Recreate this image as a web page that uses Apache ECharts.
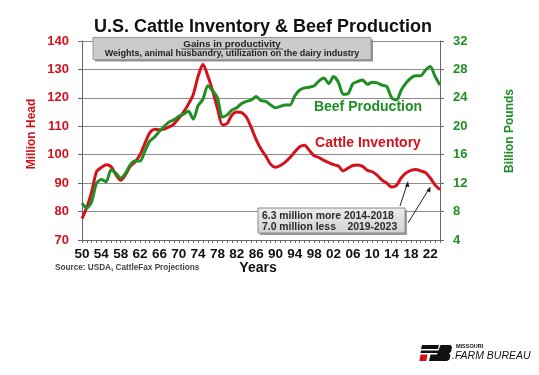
<!DOCTYPE html>
<html>
<head>
<meta charset="utf-8">
<script src="https://cdn.jsdelivr.net/npm/echarts@6/dist/echarts.min.js"></script>
<style>
html,body{margin:0;padding:0;background:#fff;}
#chart{width:539px;height:375px;}
</style>
</head>
<body>
<div id="chart"></div>
<script>
// Years 1950..2024
var startYear = 1950;
var endYear = 2024;

// Cattle inventory, million head (left axis)
var cattleInventory = [
  77.5, 81.5, 87.0, 94.0, 95.5, 96.5, 95.8, 93.0, 91.0, 93.0,
  96.0, 97.5, 100.0, 104.0, 107.7, 109.0, 108.8, 109.0, 109.8, 110.8,
  112.8, 115.0, 117.8, 121.2, 127.6, 131.8, 127.8, 122.5, 116.3, 110.5,
  111.0, 114.0, 115.0, 114.8, 113.2, 109.5, 105.3, 102.0, 99.5, 96.6,
  95.6, 96.2, 97.4, 99.0, 101.0, 102.8, 103.3, 101.5, 99.6, 99.0,
  98.0, 97.2, 96.5, 96.0, 94.3, 95.3, 96.2, 96.4, 95.9, 94.5,
  94.0, 92.8, 91.1, 90.0, 88.6, 89.2, 91.9, 93.6, 94.5, 94.8,
  94.3, 93.7, 91.8, 89.3, 87.7
];

// Beef production, billion pounds (right axis)
var beefProduction = [
  9.2, 8.5, 9.4, 12.0, 12.5, 12.2, 13.9, 13.4, 12.7, 13.4,
  14.6, 15.1, 15.1, 16.5, 17.9, 18.5, 19.3, 20.0, 20.6, 20.9,
  21.4, 21.7, 22.1, 21.0, 22.9, 23.8, 25.7, 25.0, 24.0, 21.3,
  21.6, 22.3, 22.6, 23.2, 23.5, 23.7, 24.2, 23.6, 23.5, 23.0,
  22.6, 22.8, 23.0, 23.0, 24.3, 25.1, 25.4, 25.5, 25.7, 26.4,
  26.8, 26.0, 27.0, 26.2, 24.5, 24.6, 26.0, 26.3, 26.5, 25.9,
  26.2, 26.1, 25.8, 25.6, 24.0, 23.7, 25.1, 26.1, 26.8, 27.1,
  27.1, 27.9, 28.4, 27.0, 25.8
];

// Tick labels
var leftTicks = [70, 80, 90, 100, 110, 120, 130, 140];
var rightTicks = [4, 8, 12, 16, 20, 24, 28, 32];

var years = [];
for (var y = startYear; y <= endYear; y++) years.push(y);
var cattleData = years.map(function (yr, i) { return [yr, cattleInventory[i]]; });
var beefData = years.map(function (yr, i) { return [yr, beefProduction[i]]; });

var RED = '#d3121c';
var GREEN = '#1f8f24';
var FONT = '"Liberation Sans", Arial, sans-serif';

var chart = echarts.init(document.getElementById('chart'), null, {renderer: 'canvas'});

var option = {
  animation: false,
  backgroundColor: '#ffffff',
  grid: {left: 82, right: 99, top: 41, bottom: 135, containLabel: false},
  xAxis: {
    type: 'value',
    min: startYear,
    max: endYear,
    interval: 1,
    axisLine: {show: true, lineStyle: {color: '#666', width: 1}},
    axisTick: {show: true, length: 3, lineStyle: {color: '#666'}},
    splitLine: {show: false},
    axisLabel: {
      margin: 7,
      color: '#111',
      fontFamily: FONT,
      fontWeight: 'bold',
      fontSize: 13.5,
      formatter: function (v) {
        return ((v - startYear) % 4 === 0 && v <= 2022) ? String(v).slice(2) : '';
      }
    }
  },
  yAxis: [
    {
      type: 'value',
      min: leftTicks[0],
      max: leftTicks[leftTicks.length - 1],
      interval: 10,
      position: 'left',
      axisLine: {show: true, lineStyle: {color: '#666', width: 1}},
      axisTick: {show: true, length: 4, lineStyle: {color: '#666'}},
      splitLine: {show: true, lineStyle: {color: '#8c8c8c', width: 1}},
      axisLabel: {margin: 13, color: RED, fontFamily: FONT, fontWeight: 'bold', fontSize: 13}
    },
    {
      type: 'value',
      min: rightTicks[0],
      max: rightTicks[rightTicks.length - 1],
      interval: 4,
      position: 'right',
      axisLine: {show: true, lineStyle: {color: '#666', width: 1}},
      axisTick: {show: true, length: 4, lineStyle: {color: '#666'}},
      splitLine: {show: false},
      axisLabel: {margin: 13, color: GREEN, fontFamily: FONT, fontWeight: 'bold', fontSize: 13}
    }
  ],
  series: [
    {
      name: 'Cattle Inventory',
      type: 'line',
      yAxisIndex: 0,
      data: cattleData,
      showSymbol: false,
      smooth: 0.25,
      lineStyle: {color: RED, width: 3},
      z: 3
    },
    {
      name: 'Beef Production',
      type: 'line',
      yAxisIndex: 1,
      data: beefData,
      showSymbol: false,
      smooth: 0.25,
      lineStyle: {color: GREEN, width: 3},
      z: 4
    }
  ],
  graphic: [
    // Title
    {type: 'text', x: 263, y: 27, z: 10,
      style: {text: 'U.S. Cattle Inventory & Beef Production', fill: '#111', font: 'bold 18px ' + FONT, align: 'center', verticalAlign: 'middle'}},
    // Productivity box shadow + box
    {type: 'rect', shape: {x: 95, y: 39.5, width: 278, height: 22}, style: {fill: '#8f8f8f'}, z: 10},
    {type: 'rect', shape: {x: 93, y: 37.5, width: 278, height: 22}, style: {fill: '#cbcbcb', stroke: '#9a9a9a', lineWidth: 1}, z: 11},
    {type: 'text', x: 232, y: 44, z: 12,
      style: {text: 'Gains in productivity', fill: '#222', font: 'bold 9.8px ' + FONT, align: 'center', verticalAlign: 'middle'}},
    {type: 'line', shape: {x1: 181, y1: 49, x2: 283, y2: 49}, style: {stroke: '#333', lineWidth: 0.8}, z: 12},
    {type: 'text', x: 232, y: 53.5, z: 12,
      style: {text: 'Weights, animal husbandry, utilization on the dairy industry', fill: '#222', font: 'bold 9px ' + FONT, align: 'center', verticalAlign: 'middle'}},
    // Series labels
    {type: 'text', x: 368, y: 107, z: 12,
      style: {text: 'Beef Production', fill: GREEN, font: 'bold 14px ' + FONT, align: 'center', verticalAlign: 'middle'}},
    {type: 'text', x: 368, y: 143, z: 12,
      style: {text: 'Cattle Inventory', fill: RED, font: 'bold 14px ' + FONT, align: 'center', verticalAlign: 'middle'}},
    // Axis names
    {type: 'text', x: 32, y: 134, rotation: Math.PI / 2, z: 12,
      style: {text: 'Million Head', fill: RED, font: 'bold 12px ' + FONT, align: 'center', verticalAlign: 'middle'}},
    {type: 'text', x: 510, y: 131, rotation: Math.PI / 2, z: 12,
      style: {text: 'Billion Pounds', fill: GREEN, font: 'bold 12px ' + FONT, align: 'center', verticalAlign: 'middle'}},
    // Years + source
    {type: 'text', x: 258, y: 268, z: 12,
      style: {text: 'Years', fill: '#111', font: 'bold 14px ' + FONT, align: 'center', verticalAlign: 'middle'}},
    {type: 'text', x: 55, y: 267.5, z: 12,
      style: {text: 'Source: USDA, CattleFax Projections', fill: '#444', font: 'bold 8.2px ' + FONT, align: 'left', verticalAlign: 'middle'}},
    // Annotation box
    {type: 'rect', shape: {x: 260, y: 210, width: 147, height: 25}, style: {fill: '#9a9a9a'}, z: 10},
    {type: 'rect', shape: {x: 258, y: 208, width: 147, height: 25},
      style: {fill: new echarts.graphic.LinearGradient(0, 0, 0, 1, [{offset: 0, color: '#ececec'}, {offset: 1, color: '#d2d2d2'}]), stroke: '#8a8a8a', lineWidth: 1}, z: 11},
    {type: 'text', x: 262, y: 216, z: 12,
      style: {text: '6.3 million more 2014-2018', fill: '#2a2a2a', font: 'bold 10.4px ' + FONT, align: 'left', verticalAlign: 'middle'}},
    {type: 'text', x: 262, y: 227, z: 12,
      style: {text: '7.0 million less    2019-2023', fill: '#2a2a2a', font: 'bold 10.4px ' + FONT, align: 'left', verticalAlign: 'middle'}},
    // Arrows
    {type: 'line', shape: {x1: 400, y1: 206, x2: 407.5, y2: 183}, style: {stroke: '#222', lineWidth: 1}, z: 12},
    {type: 'polygon', shape: {points: [[408, 181], [405, 186.5], [409.3, 187]]}, style: {fill: '#222'}, z: 12},
    {type: 'line', shape: {x1: 408, y1: 223, x2: 429.5, y2: 188}, style: {stroke: '#222', lineWidth: 1}, z: 12},
    {type: 'polygon', shape: {points: [[430.5, 186.5], [426.4, 190.8], [430.3, 192.5]]}, style: {fill: '#222'}, z: 12},
    // Missouri Farm Bureau logo
    {type: 'polygon', shape: {points: [[422, 345], [439, 345], [438, 349], [421, 349]]}, style: {fill: '#111'}, z: 12},
    {type: 'polygon', shape: {points: [[421, 350.5], [432, 350.5], [431.4, 353], [420.5, 353]]}, style: {fill: '#111'}, z: 12},
    {type: 'polygon', shape: {points: [[420.5, 354.5], [427.5, 354.5], [426.3, 361], [419.3, 361]]}, style: {fill: '#d3121c'}, z: 12},
    {type: 'polygon', shape: {points: [[440.5, 345], [450.5, 345], [452, 347], [451, 352], [449, 353.2], [450.5, 355], [449.5, 359.5], [447, 361], [429, 361], [430.5, 354.5], [437, 354.5], [437.5, 353], [430.8, 353], [432, 350.5], [438.5, 350.5]]}, style: {fill: '#111'}, z: 12},
    {type: 'text', x: 456, y: 346, z: 12,
      style: {text: 'MISSOURI', fill: '#111', font: 'bold 5.5px ' + FONT, align: 'left', verticalAlign: 'middle'}},
    {type: 'text', x: 452, y: 356, z: 12,
      style: {text: '.FARM BUREAU', fill: '#111', font: 'italic 10.5px ' + FONT, align: 'left', verticalAlign: 'middle'}}
  ]
};
chart.setOption(option);
</script>
</body>
</html>
